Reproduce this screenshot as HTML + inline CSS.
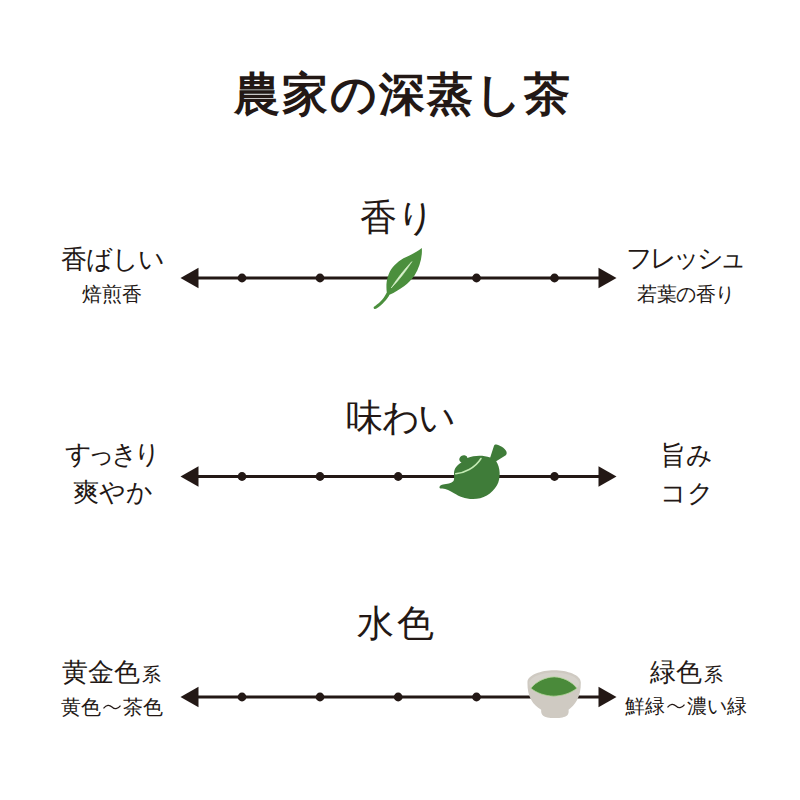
<!DOCTYPE html>
<html lang="ja"><head><meta charset="utf-8">
<style>
html,body{margin:0;padding:0;background:#fff;}
body{width:800px;height:800px;position:relative;overflow:hidden;color:#231815;font-family:"Liberation Sans",sans-serif;}
.t{position:absolute;white-space:nowrap;line-height:1;}
.title{font-family:"Liberation Serif",serif;font-size:46px;font-weight:bold;letter-spacing:2px;}
.h{font-family:"Liberation Serif",serif;font-size:37px;}
.m{font-size:26px;}
.s{font-size:20px;}
.k{font-size:19px;margin-left:2px;}
.wv{position:static;display:inline-block;width:1.1em;height:1em;vertical-align:top;}
svg{position:absolute;left:0;top:0;}
</style></head><body>
<svg width="800" height="800" viewBox="0 0 800 800">
<g fill="#231815" stroke="#231815">
<line x1="196" y1="278" x2="601" y2="278" stroke-width="3"/>
<polygon points="180.5,278 198.5,267.8 198.5,288.3" stroke="none"/>
<polygon points="616.5,278 598.5,267.8 598.5,288.3" stroke="none"/>
<circle cx="242" cy="278" r="4.4" stroke="none"/><circle cx="320" cy="278" r="4.4" stroke="none"/><circle cx="476.5" cy="278" r="4.4" stroke="none"/><circle cx="554.5" cy="278" r="4.4" stroke="none"/>

<line x1="196" y1="476.5" x2="601" y2="476.5" stroke-width="3"/>
<polygon points="180.5,476.5 198.5,466.2 198.5,486.8" stroke="none"/>
<polygon points="616.5,476.5 598.5,466.2 598.5,486.8" stroke="none"/>
<circle cx="242" cy="476.5" r="4.4" stroke="none"/><circle cx="320" cy="476.5" r="4.4" stroke="none"/><circle cx="398.2" cy="476.5" r="4.4" stroke="none"/><circle cx="554.5" cy="476.5" r="4.4" stroke="none"/>

<line x1="196" y1="697" x2="601" y2="697" stroke-width="3"/>
<polygon points="180.5,697 198.5,686.8 198.5,707.3" stroke="none"/>
<polygon points="616.5,697 598.5,686.8 598.5,707.3" stroke="none"/>
<circle cx="242" cy="697" r="4.4" stroke="none"/><circle cx="320" cy="697" r="4.4" stroke="none"/><circle cx="398.2" cy="697" r="4.4" stroke="none"/><circle cx="476.5" cy="697" r="4.4" stroke="none"/>
</g>
<path d="M421.8 248 C422.6 256 419.8 267.5 414.5 275.5 C409.5 283 400 290 389.5 294.8 C387.5 299 381.5 305.5 376.5 308.6 C375 309.6 373.3 309 373.7 307 C378.5 303.8 383.2 300 386.8 292.6 C385.6 283.5 387.2 274.5 392.5 267.6 C397.8 260.8 404.6 257.4 410 255.2 C414.6 253.2 418.4 250.6 421.8 248Z" fill="#4b8f3d"/>
<path d="M391.2 288 C397.2 278.5 404.1 269.7 411.9 261.6 C406 271.1 399.1 279.9 391.2 288Z" fill="#dcf3cf" stroke="#dcf3cf" stroke-width="0.6" stroke-linejoin="round"/>
<g transform="translate(435 440) scale(0.1)">
<path d="M45 478 C42 465 55 448 80 445 C120 440 165 432 185 410 C195 395 190 360 190 330 C192 290 215 255 265 226 C248 215 238 200 245 183 C252 160 275 150 295 152 C315 155 325 168 323 180 C400 150 480 150 552 176 L590 58 C594 47 602 44 612 45 C640 48 700 80 714 115 C720 132 716 146 708 152 L612 212 C652 270 662 380 620 452 C570 540 480 590 380 590 C300 590 240 562 190 532 C150 508 110 488 75 485 C60 484 48 488 45 478Z" fill="#3f7c39"/>
<path d="M207 338 C290 330 400 282 460 185" stroke="#c4ebb4" stroke-width="15" fill="none" stroke-linecap="round"/>
</g>
<g transform="translate(520 662) scale(0.0875)">
<path d="M85 230 C88 150 240 95 390 95 C540 95 698 150 695 235 C698 400 630 490 555 545 C562 600 545 640 400 640 C255 640 238 600 242 545 C150 490 82 400 85 230Z" fill="#cfcac2"/>
<path d="M105 240 C112 168 250 120 390 120 C530 120 670 168 677 245 C672 325 530 352 390 352 C250 352 108 325 105 240Z" fill="#d6d2cb"/>
<path d="M125 300 C180 225 290 172 390 170 C490 172 595 225 650 300 C580 358 480 388 385 390 C285 388 190 355 125 300Z" fill="#4a8a3a" stroke="#b0d698" stroke-width="9" stroke-linejoin="round"/>
</g>
</svg>

<div class="t title" style="left:234px;top:72px;">農家の深蒸し茶</div>
<div class="t h" style="left:360px;top:199px;">香り</div>
<div class="t h" style="left:346px;top:399px;letter-spacing:-1.5px">味わい</div>
<div class="t h" style="left:357px;top:605px;letter-spacing:3px">水色</div>

<div class="t m" style="left:61px;top:246px;letter-spacing:-1px">香ばしい</div>
<div class="t s" style="left:82px;top:284px;">焙煎香</div>
<div class="t m" style="left:626px;top:245px;letter-spacing:-3.5px">フレッシュ</div>
<div class="t s" style="left:637px;top:284px;letter-spacing:-0.5px">若葉の香り</div>

<div class="t m" style="left:65px;top:441px;letter-spacing:-4px">すっきり</div>
<div class="t m" style="left:73px;top:479px;">爽やか</div>
<div class="t m" style="left:660px;top:442px;">旨み</div>
<div class="t m" style="left:660px;top:480px;">コク</div>

<div class="t m" style="left:62px;top:659px;">黄金色<span class="k">系</span></div>
<div class="t s" style="left:61px;top:697px;">黄色<svg class="wv" viewBox="0 0 22 20"><path d="M2.5 11.4 C5.5 7.4 8.5 7.6 11 10 C13.5 12.4 16.5 12.6 19.5 8.6" fill="none" stroke="#231815" stroke-width="1.2"/></svg>茶色</div>
<div class="t m" style="left:650px;top:659px;">緑色<span class="k">系</span></div>
<div class="t s" style="left:625px;top:696px;letter-spacing:0px">鮮緑<svg class="wv" viewBox="0 0 22 20"><path d="M2.5 11.4 C5.5 7.4 8.5 7.6 11 10 C13.5 12.4 16.5 12.6 19.5 8.6" fill="none" stroke="#231815" stroke-width="1.2"/></svg>濃い緑</div>
</body></html>
